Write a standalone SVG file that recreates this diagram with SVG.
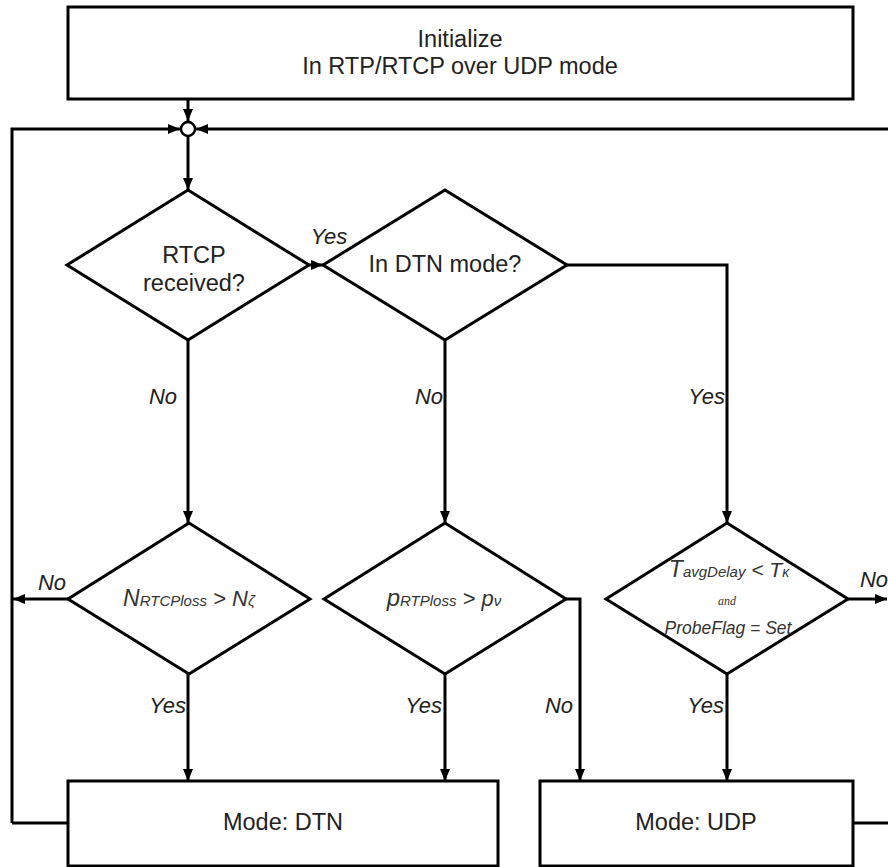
<svg xmlns="http://www.w3.org/2000/svg" width="888" height="867" viewBox="0 0 888 867">
  <defs>
    <marker id="arrow" viewBox="0 0 12 10" refX="12" refY="5" markerWidth="12" markerHeight="10" markerUnits="userSpaceOnUse" orient="auto">
      <path d="M0,0 L12,5 L0,10 Z" fill="#000"/>
    </marker>
    <style>
      .box { fill: #fff; stroke: #000; stroke-width: 3; }
      .dia { fill: #fff; stroke: #000; stroke-width: 3; stroke-linejoin: miter; }
      .edge { fill: none; stroke: #000; stroke-width: 3; }
      .arr { marker-end: url(#arrow); }
      .txt { font-family: "Liberation Sans", Arial, sans-serif; font-size: 23.5px; fill: #222; text-anchor: middle; }
      .lbl { font-family: "Liberation Sans", Arial, sans-serif; font-size: 22px; font-style: italic; fill: #222; }
      .math { font-family: "Liberation Sans", Arial, sans-serif; font-style: italic; fill: #333; text-anchor: middle; }
      .and { font-family: "Liberation Serif", "Times New Roman", serif; font-style: italic; font-size: 12px; fill: #333; text-anchor: middle; }
    </style>
  </defs>

  <!-- connectors -->
  <g id="connectors">
    <path class="edge arr" d="M188,99 L188,121"/>
    <path class="edge arr" d="M12,823 L12,129 L180,129"/>
    <path class="edge arr" d="M888,129 L196,129"/>
    <path class="edge arr" d="M188,137 L188,190"/>
    <path class="edge arr" d="M309,265 L323,265"/>
    <path class="edge arr" d="M188,340 L188,523"/>
    <path class="edge arr" d="M445,340 L445,523"/>
    <path class="edge arr" d="M567,265 L727,265 L727,523"/>
    <path class="edge arr" d="M68,599 L13,599"/>
    <path class="edge arr" d="M848,599 L887,599"/>
    <path class="edge arr" d="M188,674 L188,781"/>
    <path class="edge arr" d="M445,674 L445,781"/>
    <path class="edge arr" d="M566,599 L580,599 L580,781"/>
    <path class="edge arr" d="M727,674 L727,781"/>
    <path class="edge" d="M68,823 L12,823"/>
    <path class="edge" d="M853,823 L888,823"/>
    <circle cx="188" cy="129" r="7" fill="#fff" stroke="#000" stroke-width="2.5"/>
  </g>

  <!-- edge labels -->
  <g id="labels">
    <text class="lbl" x="329" y="244" text-anchor="middle">Yes</text>
    <text class="lbl" x="163" y="404" text-anchor="middle">No</text>
    <text class="lbl" x="443" y="404" text-anchor="end">No</text>
    <text class="lbl" x="725" y="404" text-anchor="end">Yes</text>
    <text class="lbl" x="52" y="590" text-anchor="middle">No</text>
    <text class="lbl" x="874" y="587" text-anchor="middle">No</text>
    <text class="lbl" x="186" y="713" text-anchor="end">Yes</text>
    <text class="lbl" x="442" y="713" text-anchor="end">Yes</text>
    <text class="lbl" x="573" y="713" text-anchor="end">No</text>
    <text class="lbl" x="724" y="713" text-anchor="end">Yes</text>
  </g>

  <g id="init">
    <rect class="box" x="68" y="7" width="785" height="92"/>
    <text class="txt" x="460" y="47">Initialize</text>
    <text class="txt" x="460" y="74">In RTP/RTCP over UDP mode</text>
  </g>

  <g id="rtcp-received">
    <polygon class="dia" points="188,190 309,265 188,340 67,265"/>
    <text class="txt" x="194" y="263">RTCP</text>
    <text class="txt" x="194" y="291">received?</text>
  </g>

  <g id="dtn-mode">
    <polygon class="dia" points="445,190 567,265 445,340 323,265"/>
    <text class="txt" x="445" y="272">In DTN mode?</text>
  </g>

  <g id="rtcp-loss">
    <polygon class="dia" points="189,523 310,599 189,674 68,599"/>
    <text class="math" x="189" y="606"><tspan font-size="23">N</tspan><tspan font-size="15">RTCPloss</tspan><tspan font-size="22"> &gt; N</tspan><tspan font-size="15">ζ</tspan></text>
  </g>

  <g id="rtp-loss">
    <polygon class="dia" points="445,523 566,599 445,674 324,599"/>
    <text class="math" x="444" y="606"><tspan font-size="24">p</tspan><tspan font-size="15">RTPloss</tspan><tspan font-size="22"> &gt; p</tspan><tspan font-size="15">ν</tspan></text>
  </g>

  <g id="delay-probe">
    <polygon class="dia" points="727,523 848,599 727,674 606,599"/>
    <text class="math" x="729" y="577"><tspan font-size="23">T</tspan><tspan font-size="15">avgDelay</tspan><tspan font-size="21"> &lt; T</tspan><tspan font-size="14">κ</tspan></text>
    <text class="and" x="727" y="605">and</text>
    <text class="math" x="728" y="634" font-size="17.5">ProbeFlag = Set</text>
  </g>

  <g id="mode-dtn">
    <rect class="box" x="68" y="781" width="430" height="85"/>
    <text class="txt" x="283" y="830">Mode: DTN</text>
  </g>

  <g id="mode-udp">
    <rect class="box" x="540" y="781" width="313" height="85"/>
    <text class="txt" x="696" y="830">Mode: UDP</text>
  </g>
</svg>
